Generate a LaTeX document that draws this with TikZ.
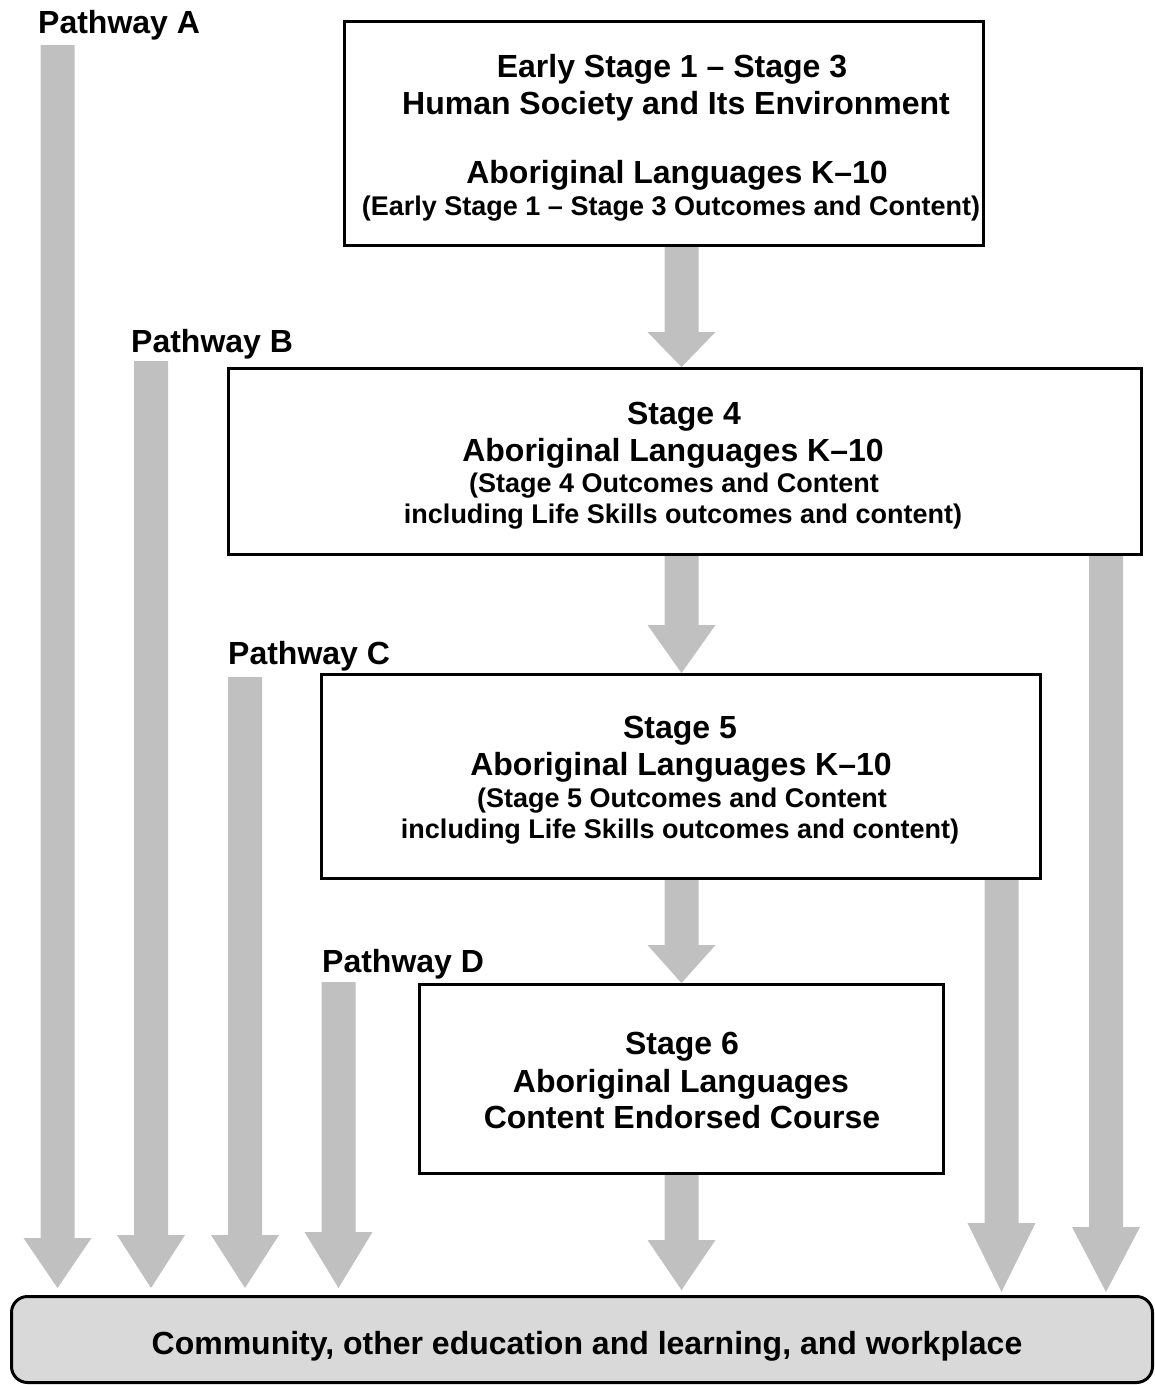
\documentclass[tikz,border=0pt]{standalone}
\usepackage{fontspec}
\setmainfont{Liberation Sans}
\usetikzlibrary{calc}
\definecolor{arrowgray}{HTML}{C0C0C0}
\definecolor{basegray}{HTML}{D9D9D9}
% fat block arrow from coordinate #1 to tip coordinate #2, head length #3
\newcommand\fatarrow[3]{%
  \fill[arrowgray] let \p1=(#1), \p2=(#2) in
    ({\x1-17pt},\y1) -- ({\x1-17pt},{\y2+#3pt}) -- ({\x1-34pt},{\y2+#3pt}) --
    (\x1,\y2) -- ({\x1+34pt},{\y2+#3pt}) -- ({\x1+17pt},{\y2+#3pt}) --
    ({\x1+17pt},\y1) -- cycle;}
\tikzset{
  stagebox/.style={draw=black, line width=3pt, fill=white, rectangle, inner sep=0pt},
  basebox/.style={draw=black, line width=3pt, fill=basegray, rectangle, rounded corners=16pt, inner sep=0pt},
  bigtxt/.style={font=\fontsize{32}{38}\selectfont\bfseries, anchor=base, inner sep=0pt},
  smalltxt/.style={font=\fontsize{27}{32}\selectfont\bfseries, anchor=base, inner sep=0pt},
  pathlbl/.style={font=\fontsize{32}{38}\selectfont\bfseries, anchor=base west, inner sep=0pt}
}
\begin{document}
\begin{tikzpicture}[x=1pt,y=-1pt]
\useasboundingbox (0,0) rectangle (1155,1385);

% boxes
\node[stagebox, minimum width=639pt, minimum height=224pt] (b1) at (664,133.5) {};
\node[stagebox, minimum width=913pt, minimum height=186pt] (b4) at (685,461.5) {};
\node[stagebox, minimum width=719pt, minimum height=204pt] (b5) at (681,776.5) {};
\node[stagebox, minimum width=524pt, minimum height=189pt] (b6) at (681.5,1079) {};
\node[basebox, minimum width=1141pt, minimum height=86pt] (bot) at (582,1339.5) {};

% texts in boxes
\node[bigtxt] (t1a) at (672,77) {Early Stage 1 – Stage 3};
\node[bigtxt] (t1b) at (676,114) {Human Society and Its Environment};
\node[bigtxt] (t1c) at (677,183) {Aboriginal Languages K–10};
\node[smalltxt] (t1d) at (671,215) {(Early Stage 1 – Stage 3 Outcomes and Content)};

\node[bigtxt] (t4a) at (684,424) {Stage 4};
\node[bigtxt] (t4b) at (673,461) {Aboriginal Languages K–10};
\node[smalltxt] (t4c) at (674,492) {(Stage 4 Outcomes and Content};
\node[smalltxt] (t4d) at (683,523) {including Life Skills outcomes and content)};

\node[bigtxt] (t5a) at (680,738) {Stage 5};
\node[bigtxt] (t5b) at (681,775) {Aboriginal Languages K–10};
\node[smalltxt] (t5c) at (682,807) {(Stage 5 Outcomes and Content};
\node[smalltxt] (t5d) at (680,838) {including Life Skills outcomes and content)};

\node[bigtxt] (t6a) at (682,1054) {Stage 6};
\node[bigtxt] (t6b) at (681,1092) {Aboriginal Languages};
\node[bigtxt] (t6c) at (682,1128) {Content Endorsed Course};

\node[bigtxt] (tbot) at (587,1354) {Community, other education and learning, and workplace};

% pathway labels
\node[pathlbl] (pA) at (38,33) {Pathway A};
\node[pathlbl] (pB) at (131,352) {Pathway B};
\node[pathlbl] (pC) at (228,664) {Pathway C};
\node[pathlbl] (pD) at (322,972) {Pathway D};

% arrow coordinates
\coordinate (mx) at (681.5,0);
\coordinate (aAs) at (57.5,45);   \coordinate (aAt) at (57.5,1288);
\coordinate (aBs) at (151,361);   \coordinate (aBt) at (151,1288);
\coordinate (aCs) at (245,677);   \coordinate (aCt) at (245,1288);
\coordinate (aDs) at (338.5,982); \coordinate (aDt) at (338.5,1288);
\coordinate (r1x) at (1001.5,0);  \coordinate (r1t) at (1001.5,1292);
\coordinate (r2x) at (1106,0);    \coordinate (r2t) at (1106,1292);
\coordinate (m4t) at (681.5,1290);

% pathway arrows
\fatarrow{aAs}{aAt}{50}
\fatarrow{aBs}{aBt}{53}
\fatarrow{aCs}{aCt}{53}
\fatarrow{aDs}{aDt}{56}
\fatarrow{b5.south -| r1x}{r1t}{69}
\fatarrow{b4.south -| r2x}{r2t}{65}

% stage arrows
\fatarrow{b1.south -| mx}{b4.north -| mx}{35}
\fatarrow{b4.south -| mx}{b5.north -| mx}{48}
\fatarrow{b5.south -| mx}{b6.north -| mx}{38}
\fatarrow{b6.south -| mx}{m4t}{50}
\end{tikzpicture}
\end{document}
